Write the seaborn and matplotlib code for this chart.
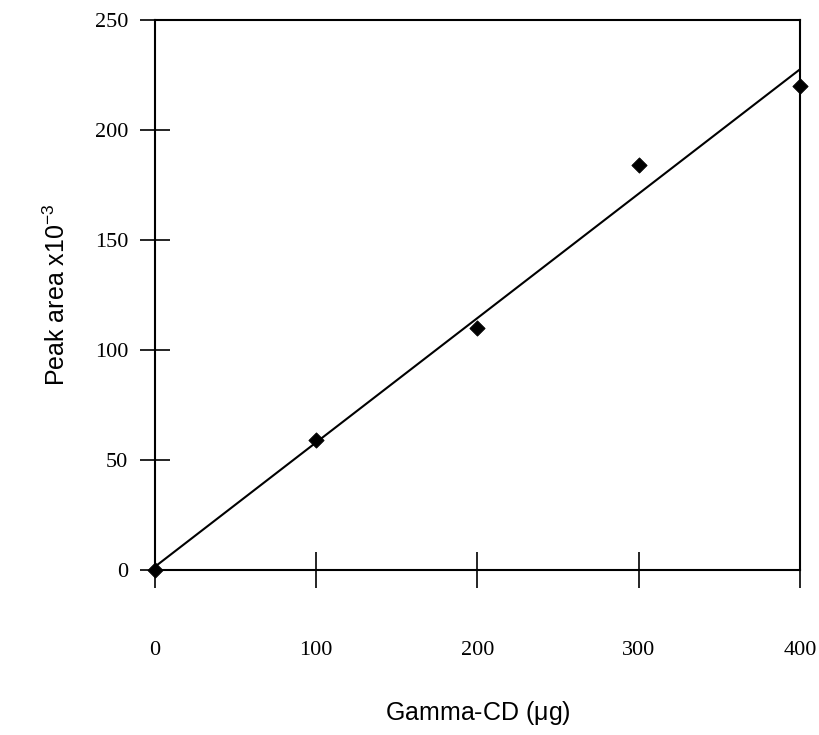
import numpy as np
import pandas as pd
import matplotlib
matplotlib.use("Agg")
import matplotlib.pyplot as plt
import seaborn as sns

# values
gamma_cd = [0, 100, 200, 300, 400]
peak_area = [0, 59, 110, 184, 220]
x_ticks = [0, 100, 200, 300, 400]
y_ticks = [0, 50, 100, 150, 200, 250]

sns.set_style("white")
plt.rcParams["text.color"] = "black"
plt.rcParams["axes.labelcolor"] = "black"
plt.rcParams["xtick.color"] = "black"
plt.rcParams["ytick.color"] = "black"

df = pd.DataFrame({"x": gamma_cd, "y": peak_area})
slope, intercept = np.polyfit(df["x"], df["y"], 1)
fit = pd.DataFrame({"x": [min(gamma_cd), max(gamma_cd)]})
fit["y"] = slope * fit["x"] + intercept

fig = plt.figure(figsize = (8.19, 7.35), dpi = 100)
ax = fig.add_axes([0.189, 0.224, 0.788, 0.749])

sns.lineplot(data = fit, x = "x", y = "y", color = "black", linewidth = 1.5, ax = ax)
sns.scatterplot(data = df, x = "x", y = "y", marker = "D", s = 60, color = "black",
                edgecolor = "black", zorder = 5, clip_on = False, ax = ax)

ax.set_xlim(0, 400)
ax.set_ylim(0, 250)
ax.set_xticks(x_ticks)
ax.set_yticks(y_ticks)
for s in ax.spines.values():
    s.set_color("black")
    s.set_linewidth(1.5)

ax.tick_params(axis = "x", bottom = True, direction = "inout", length = 26, width = 1.2,
               pad = 38, labelsize = 16)
ax.tick_params(axis = "y", left = True, direction = "inout", length = 22, width = 1.2,
               pad = 8, labelsize = 16)
for lab in ax.get_xticklabels() + ax.get_yticklabels():
    lab.set_fontfamily("Liberation Serif")

ax.set_xlabel("Gamma-CD ($\\mathregular{\\mu}$g)", fontsize = 18, family = "Liberation Sans", labelpad = 28)
ax.set_ylabel("Peak area x10$^{\\mathregular{-3}}$", fontsize = 18, family = "Liberation Sans", labelpad = 18)

fig.savefig("out.png", dpi = 100)
